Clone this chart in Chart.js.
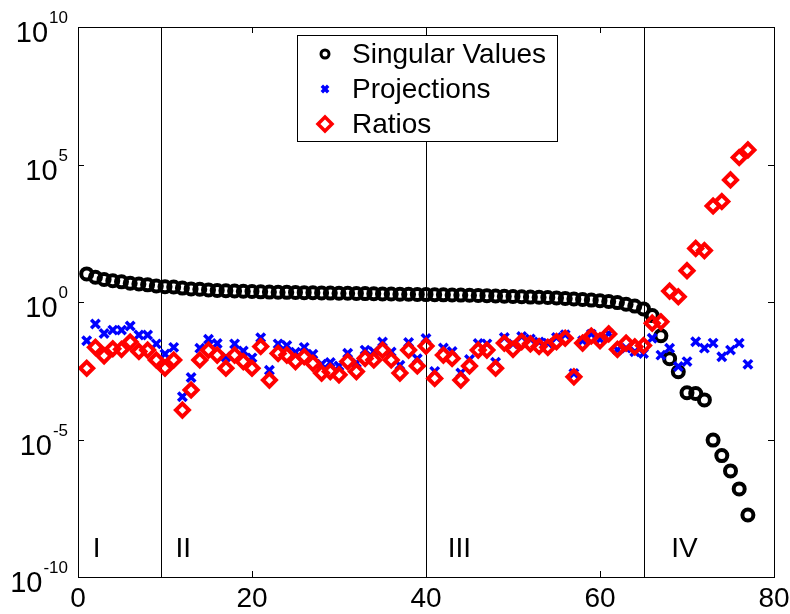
<!DOCTYPE html>
<html>
<head>
<meta charset="utf-8">
<script src="https://cdn.jsdelivr.net/npm/chart.js@4.4.0/dist/chart.umd.min.js"></script>
<style>
  html, body { margin: 0; padding: 0; background: #fff; }
  #wrap { width: 790px; height: 614px; }
</style>
</head>
<body>
<div id="wrap"><canvas id="chart" width="790" height="614"></canvas></div>
<script>
// === DATOS ===
const xIndex = [
  1, 2, 3, 4, 5, 6, 7, 8, 9, 10, 11, 12, 13, 14, 15, 16, 17, 18, 19, 20,
  21, 22, 23, 24, 25, 26, 27, 28, 29, 30, 31, 32, 33, 34, 35, 36, 37, 38, 39, 40,
  41, 42, 43, 44, 45, 46, 47, 48, 49, 50, 51, 52, 53, 54, 55, 56, 57, 58, 59, 60,
  61, 62, 63, 64, 65, 66, 67, 68, 69, 70, 71, 72, 73, 74, 75, 76, 77
];

const singularValues = [
  10.5, 7.9, 6.6, 5.9, 5.4, 4.8, 4.5, 4.2, 3.8, 3.6,
  3.5, 3.2, 3.0, 2.9, 2.75, 2.63, 2.57, 2.51, 2.45, 2.40,
  2.34, 2.29, 2.26, 2.24, 2.21, 2.19, 2.16, 2.14, 2.11, 2.09,
  2.07, 2.04, 2.02, 2.0, 1.97, 1.95, 1.93, 1.91, 1.88, 1.86,
  1.84, 1.82, 1.80, 1.78, 1.76, 1.74, 1.70, 1.66, 1.62, 1.58,
  1.55, 1.51, 1.48, 1.45, 1.41, 1.35, 1.29, 1.23, 1.17, 1.12,
  1.05, 0.95, 0.83, 0.71, 0.56, 0.32, 0.059, 8.7e-3, 2.9e-3, 5.0e-4,
  4.7e-4, 2.75e-4, 9.5e-6, 2.6e-6, 7.2e-7, 1.6e-7, 1.8e-8
];

const projections = [
  0.039, 0.158, 0.072, 0.095, 0.095, 0.135, 0.063, 0.063, 0.030, 0.0129,
  0.0224, 3.6e-4, 1.8e-3, 0.021, 0.044, 0.031, 0.010, 0.030, 0.0166, 0.0093,
  0.050, 3.3e-3, 0.030, 0.026, 0.0148, 0.0224, 0.0126, 5.5e-3, 6.3e-3, 4.7e-3,
  0.0138, 6.0e-3, 0.0178, 0.0155, 0.035, 0.0151, 5.0e-3, 0.034, 8.7e-3, 0.047,
  3.0e-3, 0.0214, 0.0158, 2.6e-3, 8.1e-3, 0.031, 0.030, 6.5e-3, 0.051, 0.030,
  0.056, 0.045, 0.035, 0.032, 0.051, 0.065, 2.5e-3, 0.039, 0.068, 0.044,
  0.072, 0.018, 0.021, 0.0155, 0.0135, 0.048, 0.0117, 0.021, 4.5e-3, 6.8e-3,
  0.036, 0.021, 0.032, 0.0102, 0.0178, 0.032, 5.4e-3
];

const ratios = [
  3.9e-3, 0.0224, 0.011, 0.020, 0.019, 0.035, 0.0158, 0.0178, 7.8e-3, 3.9e-3,
  7.8e-3, 1.17e-4, 6.3e-4, 7.8e-3, 0.0178, 0.0117, 3.9e-3, 0.0117, 6.8e-3, 3.9e-3,
  0.024, 1.45e-3, 0.0135, 0.0117, 6.8e-3, 0.0102, 5.9e-3, 2.6e-3, 2.95e-3, 2.24e-3,
  6.8e-3, 2.95e-3, 8.9e-3, 7.8e-3, 0.0178, 7.8e-3, 2.6e-3, 0.0178, 4.7e-3, 0.025,
  1.66e-3, 0.0117, 8.9e-3, 1.45e-3, 4.7e-3, 0.0178, 0.0178, 3.9e-3, 0.032, 0.019,
  0.036, 0.030, 0.024, 0.0224, 0.036, 0.048, 1.9e-3, 0.032, 0.058, 0.039,
  0.069, 0.019, 0.032, 0.0234, 0.026, 0.17, 0.19, 2.5, 1.55, 13.8,
  89, 74, 3.1e3, 4.5e3, 2.75e4, 1.8e5, 3.4e5
];

const seriesNames = ["Singular Values", "Projections", "Ratios"];
const xTicks = [0, 20, 40, 60, 80];
const yTicks = [1e-10, 1e-5, 1, 1e5, 1e10];
const yExponents = ["-10", "-5", "0", "5", "10"];

// zonas I..IV
const regionLines = [9.5, 40, 65];
const regionLabels = ["I", "II", "III", "IV"];
const regionLabelX = [1.7, 11.2, 42.5, 68.2];
const regionLabelY = 1e-9;

const FONT = '"Liberation Sans", Arial, sans-serif';

// === PLUGIN: marco, ticks hacia dentro, etiquetas log, leyenda ===
const matlabFrame = {
  id: "matlabFrame",
  beforeDatasetsDraw(chart) {
    const { ctx, chartArea: a, scales: { x } } = chart;
    ctx.save();
    ctx.strokeStyle = "#000";
    ctx.lineWidth = 1;
    regionLines.forEach((v) => {
      const px = Math.round(x.getPixelForValue(v)) + 0.5;
      ctx.beginPath();
      ctx.moveTo(px, a.top);
      ctx.lineTo(px, a.bottom);
      ctx.stroke();
    });
    ctx.restore();
  },
  afterDatasetsDraw(chart) {
    const { ctx, chartArea: a, scales: { x, y } } = chart;
    ctx.save();

    // marco
    ctx.strokeStyle = "#000";
    ctx.lineWidth = 1;
    ctx.strokeRect(Math.round(a.left) + 0.5, Math.round(a.top) + 0.5,
      Math.round(a.right - a.left), Math.round(a.bottom - a.top));

    // ticks hacia dentro
    const tl = 6;
    ctx.beginPath();
    xTicks.forEach((v) => {
      const px = Math.round(x.getPixelForValue(v)) + 0.5;
      ctx.moveTo(px, a.bottom); ctx.lineTo(px, a.bottom - tl);
      ctx.moveTo(px, a.top); ctx.lineTo(px, a.top + tl);
    });
    yTicks.forEach((v) => {
      const py = Math.round(y.getPixelForValue(v)) + 0.5;
      ctx.moveTo(a.left, py); ctx.lineTo(a.left + tl, py);
      ctx.moveTo(a.right, py); ctx.lineTo(a.right - tl, py);
    });
    ctx.stroke();

    // etiquetas eje y: 10^n
    ctx.fillStyle = "#000";
    ctx.textBaseline = "alphabetic";
    yTicks.forEach((v, i) => {
      const py = y.getPixelForValue(v);
      const right = a.left - 10;
      ctx.font = "17px " + FONT;
      ctx.textAlign = "right";
      const ew = ctx.measureText(yExponents[i]).width;
      ctx.fillText(yExponents[i], right, py - 4);
      ctx.font = "29px " + FONT;
      ctx.fillText("10", right - ew - 1, py + 15);
    });

    // etiquetas de zonas
    ctx.font = "28px " + FONT;
    ctx.textAlign = "left";
    ctx.textBaseline = "middle";
    regionLabels.forEach((t, i) => {
      ctx.fillText(t, x.getPixelForValue(regionLabelX[i]), y.getPixelForValue(regionLabelY));
    });

    // leyenda
    const box = { x: 297.5, y: 35.5, w: 260, h: 106 };
    ctx.fillStyle = "#fff";
    ctx.fillRect(box.x, box.y, box.w, box.h);
    ctx.strokeStyle = "#000";
    ctx.lineWidth = 1;
    ctx.strokeRect(box.x, box.y, box.w, box.h);
    const rows = [54, 89, 124];
    const legendMarks = [
      { pointStyle: "circle", radius: 4, borderWidth: 3, color: "#000" },
      { pointStyle: "crossRot", radius: 4.5, borderWidth: 3.5, color: "#0000ff" },
      { pointStyle: "rectRot", radius: 7, borderWidth: 3.5, color: "#ff0000" }
    ];
    chart.data.datasets.forEach((ds, i) => {
      const m = legendMarks[i];
      ctx.fillStyle = "#fff";
      ctx.strokeStyle = m.color;
      ctx.lineWidth = m.borderWidth;
      Chart.helpers.drawPoint(ctx, { pointStyle: m.pointStyle, radius: m.radius, borderWidth: m.borderWidth, rotation: 0 }, 325, rows[i]);
      ctx.fillStyle = "#000";
      ctx.font = "28px " + FONT;
      ctx.textAlign = "left";
      ctx.textBaseline = "middle";
      ctx.fillText(ds.label, 352, rows[i] + 1);
    });

    ctx.restore();
  }
};

const toPoints = (vals) => xIndex.map((xi, i) => ({ x: xi, y: vals[i] }));

new Chart(document.getElementById("chart"), {
  type: "scatter",
  data: {
    datasets: [
      {
        label: seriesNames[0],
        data: toPoints(singularValues),
        pointStyle: "circle",
        pointRadius: 5.5,
        pointBorderWidth: 4,
        borderColor: "#000",
        backgroundColor: "rgba(0,0,0,0)",
        order: 3
      },
      {
        label: seriesNames[1],
        data: toPoints(projections),
        pointStyle: "crossRot",
        pointRadius: 6,
        pointBorderWidth: 3.5,
        borderColor: "#0000ff",
        backgroundColor: "#0000ff",
        order: 2
      },
      {
        label: seriesNames[2],
        data: toPoints(ratios),
        pointStyle: "rectRot",
        pointRadius: 6.5,
        pointBorderWidth: 4,
        borderColor: "#ff0000",
        backgroundColor: "rgba(0,0,0,0)",
        order: 1
      }
    ]
  },
  options: {
    responsive: false,
    animation: false,
    devicePixelRatio: 1,
    layout: { autoPadding: false, padding: { left: 0, right: 16, top: 27, bottom: 0 } },
    plugins: { legend: { display: false }, tooltip: { enabled: false } },
    scales: {
      x: {
        type: "linear",
        min: 0,
        max: 80,
        afterBuildTicks: (s) => { s.ticks = xTicks.map((v) => ({ value: v })); },
        afterFit: (s) => { s.height = 37; s.paddingLeft = 0; s.paddingRight = 0; },
        grid: { display: false, drawTicks: false },
        border: { display: false },
        ticks: { color: "#000", padding: 5, maxRotation: 0, font: { size: 28, family: FONT } }
      },
      y: {
        type: "logarithmic",
        min: 1e-10,
        max: 1e10,
        afterBuildTicks: (s) => { s.ticks = yTicks.map((v) => ({ value: v })); },
        afterFit: (s) => { s.width = 78; s.paddingTop = 0; s.paddingBottom = 0; },
        grid: { display: false, drawTicks: false },
        border: { display: false },
        ticks: { display: false }
      }
    }
  },
  plugins: [matlabFrame]
});
</script>
</body>
</html>
